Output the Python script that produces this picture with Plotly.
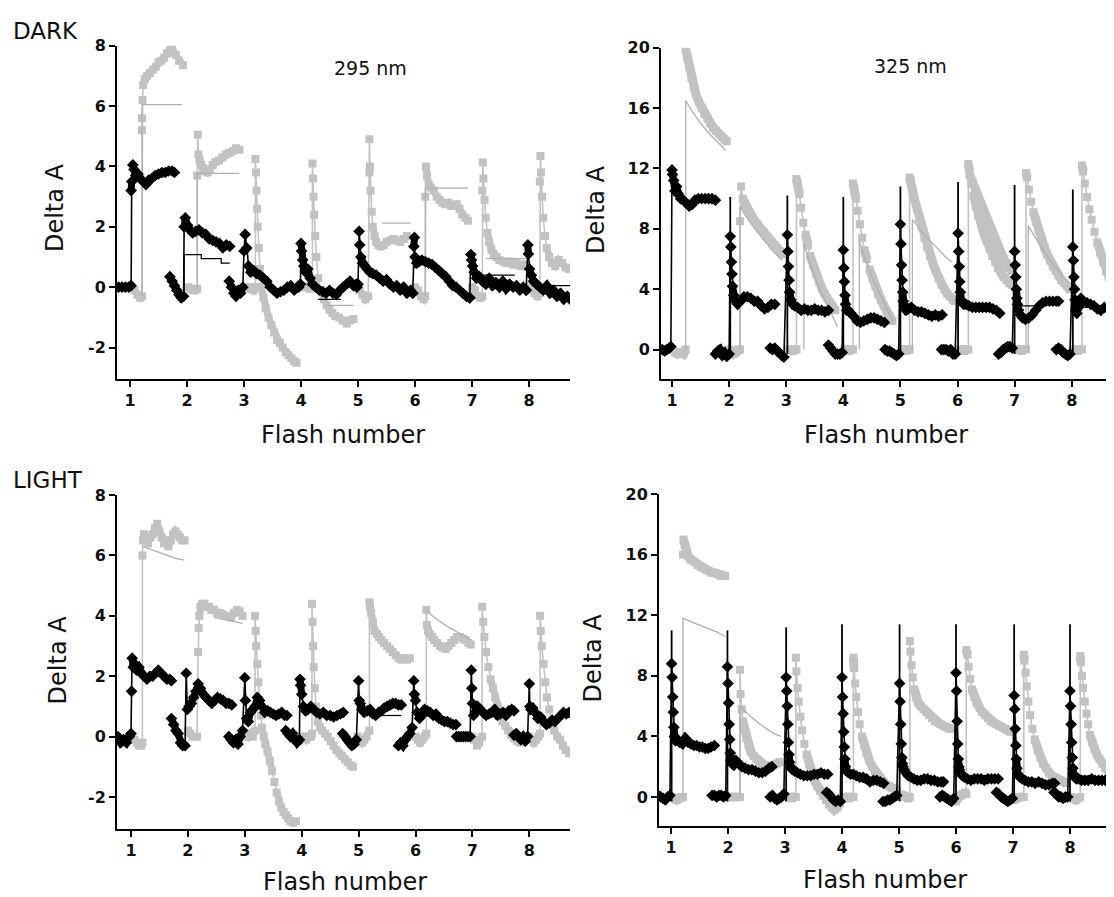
import plotly.graph_objects as go

W, H = 1114, 897
PAGE_OFF = 8  # browser body margin

# ---------------- DATA ----------------
flash_ticks = [1, 2, 3, 4, 5, 6, 7, 8]
y_ticks_295 = [-2, 0, 2, 4, 6, 8]
y_ticks_325 = [0, 4, 8, 12, 16, 20]

# ---- DARK, 295 nm (panel A) ----
dark295_black = [
    ([0.80,0.86,0.92,0.98,1.02,1.02,1.03,1.05,1.07,1.10,1.14,1.18,1.23,1.28,1.33,1.38,1.44,1.50,1.56,1.62,1.68,1.74,1.78],
     [0.0,0.0,0.0,0.0,0.05,3.2,3.5,4.05,3.9,3.7,3.75,3.6,3.5,3.4,3.55,3.6,3.7,3.75,3.8,3.8,3.85,3.85,3.8]),
    ([1.70,1.74,1.78,1.82,1.86,1.90,1.94,1.95,1.97,2.01,2.05,2.10,2.15,2.21,2.27,2.33,2.39,2.45,2.51,2.57,2.63,2.69,2.75],
     [0.35,0.2,0.05,-0.1,-0.25,-0.35,-0.3,2.0,2.3,2.05,1.9,1.8,1.85,1.9,1.8,1.75,1.6,1.55,1.5,1.45,1.3,1.4,1.35]),
    ([2.74,2.78,2.82,2.86,2.90,2.94,2.98,3.0,3.02,3.05,3.08,3.12,3.17,3.22,3.28,3.34,3.40,3.46,3.52,3.58,3.64,3.70,3.76,3.82,3.88,3.94],
     [0.2,0.0,-0.2,-0.3,-0.1,-0.2,0.0,1.2,1.75,1.3,0.7,0.5,0.55,0.45,0.4,0.3,0.2,0.0,-0.1,-0.2,-0.15,-0.1,0.0,0.05,-0.1,0.0]),
    ([3.96,3.99,4.0,4.01,4.03,4.05,4.08,4.12,4.16,4.20,4.26,4.32,4.38,4.44,4.50,4.56,4.62,4.68,4.74,4.80,4.86,4.92,4.97],
     [0.0,0.1,1.45,1.2,0.9,0.7,0.5,0.6,0.3,0.1,0.0,-0.1,-0.15,-0.2,-0.1,-0.2,-0.25,-0.1,0.0,0.1,0.2,0.05,0.1]),
    ([4.98,5.0,5.02,5.03,5.05,5.08,5.12,5.16,5.21,5.26,5.32,5.38,5.44,5.50,5.56,5.62,5.68,5.74,5.80,5.86,5.92,5.96],
     [0.0,0.1,1.85,1.4,1.0,0.8,0.7,0.6,0.5,0.45,0.4,0.3,0.2,0.25,0.1,0.0,0.05,-0.1,0.0,-0.2,-0.1,-0.2]),
    ([5.96,5.98,5.99,6.0,6.03,6.07,6.12,6.18,6.24,6.30,6.36,6.42,6.48,6.54,6.60,6.66,6.72,6.78,6.84,6.90,6.96],
     [-0.2,1.35,1.65,1.0,0.8,0.85,0.9,0.85,0.8,0.75,0.65,0.55,0.45,0.35,0.2,0.05,0.0,-0.1,-0.2,-0.3,-0.35]),
    ([6.96,6.98,6.99,7.01,7.04,7.08,7.13,7.18,7.24,7.30,7.36,7.42,7.48,7.54,7.60,7.66,7.72,7.78,7.84,7.90,7.95],
     [-0.35,1.08,0.9,0.7,0.5,0.3,0.35,0.2,0.1,0.3,0.05,0.15,0.0,0.2,-0.05,0.1,0.0,0.05,-0.1,0.0,-0.1]),
    ([7.95,7.98,7.99,8.01,8.04,8.08,8.13,8.19,8.25,8.31,8.37,8.43,8.49,8.55,8.61,8.67,8.72],
     [-0.1,1.4,1.1,0.6,0.4,0.2,0.1,0.0,-0.1,0.05,-0.2,-0.1,-0.3,-0.2,-0.4,-0.3,-0.4]),
]
dark295_gray = [
    ([1.03,1.08,1.13,1.18,1.21,1.21,1.21,1.22,1.23,1.26,1.30,1.35,1.40,1.45,1.50,1.55,1.60,1.65,1.70,1.74,1.80,1.86,1.93],
     [0.0,-0.1,-0.25,-0.35,-0.3,5.2,5.6,6.2,6.7,6.9,7.0,7.1,7.2,7.3,7.45,7.5,7.6,7.75,7.85,7.9,7.7,7.5,7.35]),
    ([2.02,2.06,2.10,2.14,2.18,2.18,2.19,2.20,2.22,2.25,2.28,2.32,2.36,2.40,2.45,2.50,2.56,2.62,2.68,2.74,2.80,2.86,2.92],
     [0.0,-0.05,-0.1,-0.1,-0.05,3.7,5.05,4.4,4.2,4.05,3.95,3.85,3.8,3.9,4.05,4.15,4.2,4.3,4.4,4.45,4.5,4.6,4.55]),
    ([3.02,3.07,3.12,3.17,3.2,3.2,3.21,3.22,3.23,3.24,3.26,3.28,3.30,3.34,3.38,3.43,3.48,3.53,3.58,3.63,3.68,3.73,3.78,3.83,3.88,3.92],
     [0.0,-0.05,0.0,-0.1,0.0,4.25,3.8,3.2,2.6,2.0,1.3,0.6,0.0,-0.35,-0.7,-1.0,-1.25,-1.5,-1.75,-1.85,-2.0,-2.15,-2.25,-2.35,-2.45,-2.5]),
    ([4.0,4.05,4.1,4.15,4.2,4.2,4.21,4.22,4.23,4.25,4.27,4.30,4.35,4.40,4.45,4.50,4.55,4.60,4.67,4.73,4.80,4.86,4.92],
     [0.0,0.05,0.0,-0.05,0.0,4.1,3.6,3.0,2.4,1.7,1.0,0.3,-0.1,-0.4,-0.6,-0.75,-0.85,-0.95,-1.0,-1.1,-1.2,-1.1,-1.05]),
    ([4.98,5.03,5.08,5.13,5.18,5.2,5.2,5.21,5.22,5.24,5.26,5.29,5.32,5.36,5.40,5.45,5.50,5.56,5.62,5.68,5.74,5.80,5.86],
     [0.0,-0.1,-0.25,-0.4,-0.3,3.8,4.9,4.0,3.2,2.5,2.0,1.7,1.5,1.4,1.35,1.4,1.5,1.55,1.6,1.55,1.5,1.6,1.7]),
    ([6.0,6.05,6.1,6.15,6.18,6.18,6.19,6.21,6.24,6.28,6.33,6.38,6.43,6.48,6.53,6.58,6.63,6.68,6.73,6.78,6.83,6.88,6.93],
     [0.0,-0.1,-0.3,-0.4,-0.3,3.0,4.0,3.7,3.4,3.3,3.2,3.0,2.9,2.8,2.75,2.8,2.7,2.7,2.75,2.6,2.4,2.3,2.2]),
    ([7.0,7.05,7.1,7.15,7.18,7.18,7.19,7.2,7.22,7.24,7.27,7.30,7.34,7.38,7.43,7.48,7.54,7.60,7.66,7.72,7.78,7.84,7.90,7.96],
     [0.0,-0.1,-0.3,-0.35,-0.3,3.2,4.13,3.6,2.9,2.3,1.8,1.5,1.25,1.1,1.0,0.9,0.85,0.8,0.85,0.75,0.8,0.7,0.75,0.7]),
    ([8.0,8.05,8.1,8.15,8.19,8.19,8.2,8.21,8.23,8.25,8.28,8.31,8.35,8.40,8.46,8.52,8.58,8.64,8.70],
     [0.0,-0.1,-0.2,-0.3,-0.2,3.5,4.35,3.8,3.0,2.3,1.7,1.3,1.0,0.8,0.7,0.9,0.8,0.65,0.6]),
]
dark295_gray_fit = [
    ([1.21,1.21,1.91], [-0.3,6.05,6.05]),
    ([2.18,2.18,2.92], [-0.05,3.77,3.77]),
    ([4.45,4.92], [-0.6,-0.6]),
    ([5.42,5.92], [2.12,2.12]),
    ([6.18,6.18,6.93], [-0.3,3.28,3.28]),
    ([7.25,7.96], [0.95,0.95]),
]
dark295_black_fit = [
    ([1.95,1.95,2.25,2.25,2.6,2.6,2.75], [-0.35,1.08,1.08,0.95,0.95,0.8,0.8]),
    ([4.3,4.7], [-0.4,-0.4]),
    ([7.15,7.75], [0.4,0.4]),
    ([8.05,8.72], [0.05,0.05]),
]

# ---- DARK, 325 nm (panel B) ----
dark325_black = [
    ([0.83,0.87,0.91,0.95,0.98,1.0,1.01,1.03,1.05,1.08,1.11,1.15,1.20,1.25,1.30,1.35,1.40,1.46,1.52,1.58,1.64,1.70,1.76],
     [0.0,-0.1,0.0,0.1,0.2,11.9,11.6,11.2,10.5,10.8,10.3,10.0,9.9,9.7,9.5,9.6,9.9,10.0,10.0,10.0,10.0,10.0,9.9]),
    ([1.76,1.80,1.84,1.88,1.92,1.96,2.0,2.02,2.03,2.04,2.05,2.06,2.08,2.11,2.15,2.20,2.26,2.32,2.38,2.44,2.50,2.56,2.62,2.68,2.74,2.80],
     [-0.3,-0.1,0.0,-0.4,-0.2,-0.45,-0.3,7.5,6.8,5.8,5.0,4.2,3.6,3.2,3.0,3.2,3.5,3.5,3.4,3.2,3.2,2.9,2.7,2.8,3.0,3.0]),
    ([2.72,2.76,2.80,2.84,2.88,2.92,2.96,3.02,3.03,3.04,3.05,3.06,3.08,3.11,3.15,3.20,3.26,3.32,3.38,3.44,3.50,3.56,3.62,3.68,3.74],
     [0.1,0.0,0.1,-0.1,-0.2,-0.4,-0.5,7.6,6.5,5.5,4.6,3.8,3.3,3.0,2.9,2.8,2.6,2.7,2.6,2.6,2.7,2.6,2.6,2.5,2.6]),
    ([3.74,3.78,3.82,3.86,3.90,3.94,3.98,4.0,4.01,4.02,4.03,4.04,4.06,4.09,4.13,4.18,4.24,4.30,4.36,4.42,4.48,4.54,4.60,4.66,4.72],
     [0.3,0.1,-0.1,-0.3,-0.3,-0.3,-0.2,6.6,5.4,4.5,3.6,3.0,2.6,2.6,2.4,2.2,1.9,1.8,1.9,2.0,2.1,2.1,2.0,1.9,1.8]),
    ([4.73,4.77,4.81,4.85,4.89,4.93,4.97,5.0,5.01,5.02,5.03,5.04,5.05,5.07,5.10,5.14,5.19,5.25,5.31,5.37,5.43,5.49,5.55,5.61,5.67,5.73],
     [0.0,-0.1,-0.1,-0.2,-0.3,-0.4,-0.3,8.3,7.0,5.6,4.6,3.8,3.2,2.9,2.6,2.7,2.8,2.6,2.5,2.5,2.4,2.3,2.2,2.3,2.2,2.3]),
    ([5.72,5.76,5.80,5.84,5.88,5.92,5.96,6.01,6.02,6.03,6.04,6.05,6.06,6.08,6.11,6.15,6.20,6.26,6.32,6.38,6.44,6.50,6.56,6.62,6.68,6.74],
     [0.0,0.0,0.0,-0.1,0.0,-0.3,-0.3,7.7,6.5,5.5,4.5,3.8,3.3,3.1,3.0,3.0,2.9,2.8,2.8,2.8,2.8,2.8,2.8,2.7,2.6,2.4]),
    ([6.72,6.76,6.80,6.84,6.88,6.92,6.96,7.0,7.01,7.02,7.03,7.04,7.05,7.07,7.10,7.14,7.19,7.25,7.31,7.37,7.43,7.49,7.55,7.61,7.67,7.73,7.77],
     [-0.3,-0.2,0.0,0.1,0.2,0.2,0.1,6.5,5.6,4.8,4.0,3.4,3.0,2.6,2.3,2.1,2.0,2.1,2.3,2.6,2.9,3.1,3.2,3.2,3.2,3.2,3.2]),
    ([7.73,7.77,7.81,7.85,7.89,7.93,7.97,8.02,8.03,8.04,8.05,8.06,8.07,8.09,8.12,8.16,8.21,8.27,8.33,8.39,8.45,8.51,8.57,8.63,8.69],
     [0.0,0.1,0.0,-0.2,-0.3,-0.4,-0.3,6.8,5.9,4.8,4.0,3.3,2.6,2.4,2.8,3.4,3.2,3.1,3.0,2.9,2.7,2.6,2.8,2.7,3.0]),
]
dark325_black_spike_x = [2.02, 3.02, 4.0, 5.0, 6.01, 7.0, 8.02]
dark325_black_spike_top = [10.1, 10.2, 10.1, 10.8, 11.1, 10.9, 10.6]
dark325_gray = [
    ([1.0,1.05,1.1,1.15,1.2,1.24], [0.0,-0.2,-0.3,-0.2,-0.3,0.0]),
    ([1.24,1.27,1.30,1.34,1.38,1.42,1.47,1.52,1.57,1.62,1.67,1.72,1.77,1.82,1.87,1.92,1.96],
     [19.9,19.3,18.7,18.0,17.4,16.9,16.4,16.0,15.6,15.3,15.0,14.7,14.5,14.3,14.1,13.9,13.8]),
    ([2.0,2.04,2.08,2.12,2.16,2.19,2.19,2.21,2.24,2.28,2.32,2.36,2.40,2.45,2.50,2.55,2.60,2.65,2.70,2.75,2.80,2.85,2.90,2.94],
     [0.0,-0.1,-0.3,-0.2,0.0,0.0,8.5,10.8,10.0,9.6,9.3,9.0,8.8,8.5,8.3,8.0,7.8,7.5,7.3,7.1,6.9,6.7,6.5,6.3]),
    ([3.04,3.08,3.12,3.16,3.18,3.18,3.20,3.23,3.26,3.30,3.34,3.38,3.42,3.47,3.52,3.57,3.62,3.67,3.72,3.77,3.82,3.86],
     [0.0,0.0,-0.1,0.0,0.0,11.3,11.0,10.3,9.4,8.4,7.6,6.9,6.2,5.6,5.0,4.5,4.1,3.7,3.4,3.1,2.8,2.6]),
    ([4.02,4.06,4.10,4.14,4.17,4.17,4.19,4.22,4.25,4.29,4.33,4.37,4.41,4.46,4.51,4.56,4.61,4.66,4.71,4.76,4.81,4.86],
     [0.0,0.0,-0.1,0.0,0.0,11.0,10.7,10.0,9.2,8.3,7.4,6.6,6.0,5.3,4.7,4.2,3.7,3.3,2.9,2.5,2.2,1.9]),
    ([5.02,5.06,5.10,5.14,5.16,5.16,5.18,5.21,5.25,5.29,5.33,5.37,5.42,5.47,5.52,5.57,5.62,5.67,5.72,5.77,5.82,5.87,5.92,5.96],
     [0.0,0.0,-0.1,0.0,0.0,11.4,11.2,10.6,9.9,9.3,8.7,8.1,7.4,6.8,6.2,5.7,5.2,4.7,4.3,4.0,3.7,3.5,3.3,3.2]),
    ([6.04,6.08,6.12,6.16,6.19,6.19,6.21,6.24,6.28,6.32,6.36,6.41,6.46,6.51,6.56,6.61,6.66,6.71,6.76,6.81,6.86,6.91,6.95],
     [0.0,0.0,-0.1,0.0,0.0,12.3,11.8,11.0,10.2,9.5,8.9,8.3,7.7,7.2,6.7,6.2,5.8,5.4,5.1,4.8,4.6,4.4,4.3]),
    ([6.21,6.26,6.31,6.36,6.41,6.46,6.51,6.56,6.61,6.66,6.71,6.76,6.81,6.86,6.91,6.95],
     [11.6,11.1,10.6,10.1,9.6,9.1,8.6,8.1,7.6,7.2,6.8,6.4,6.0,5.7,5.4,5.2]),
    ([7.04,7.08,7.12,7.16,7.2,7.2,7.22,7.25,7.29,7.33,7.37,7.42,7.47,7.52,7.57,7.62,7.67,7.72,7.77,7.82,7.87,7.92,7.96],
     [0.0,0.0,-0.1,0.0,0.0,11.7,11.4,10.6,9.8,9.1,8.5,7.9,7.3,6.8,6.3,5.9,5.5,5.2,4.9,4.6,4.4,4.2,4.0]),
    ([8.02,8.06,8.10,8.14,8.18,8.18,8.20,8.23,8.27,8.31,8.35,8.40,8.45,8.50,8.55,8.60,8.65,8.70],
     [0.0,0.0,-0.1,0.0,0.0,12.2,11.8,11.0,10.1,9.3,8.6,7.8,7.1,6.4,5.8,5.2,4.8,4.4]),
]
dark325_gray_fit = [
    ([1.24,1.24,1.35,1.5,1.65,1.8,1.94], [0.0,16.5,15.8,15.0,14.3,13.7,13.2]),
    ([2.19,2.19,2.3,2.45,2.6,2.75,2.93], [0.0,9.5,8.8,8.0,7.3,6.6,5.9]),
    ([3.31,3.31,3.4,3.5,3.6,3.7,3.8,3.9], [0.0,7.0,5.9,4.8,3.9,3.1,2.3,1.5]),
    ([4.28,4.28,4.4,4.5,4.6,4.7,4.8,4.88], [0.0,7.2,5.8,4.8,4.0,3.2,2.4,1.8]),
    ([5.21,5.21,5.3,5.4,5.5,5.6,5.7,5.8,5.9], [0.0,8.6,8.2,7.7,7.3,6.9,6.5,6.1,5.8]),
    ([7.24,7.24,7.35,7.45,7.55,7.65,7.75,7.85,7.96], [0.0,8.2,7.5,6.9,6.3,5.8,5.3,4.8,4.4]),
]
dark325_black_fit = [
    ([7.03,7.45], [2.9,2.9]),
    ([8.1,8.5], [2.8,2.8]),
]

# ---- LIGHT, 295 nm (panel C) ----
light295_black = [
    ([0.77,0.82,0.87,0.92,0.97,1.0,1.01,1.02,1.04,1.07,1.10,1.14,1.18,1.23,1.28,1.33,1.38,1.43,1.48,1.53,1.58,1.63,1.68,1.71],
     [0.0,-0.2,-0.1,-0.2,0.0,0.1,1.5,2.6,2.3,2.4,2.2,2.3,2.1,2.0,1.9,2.0,2.0,2.1,2.2,2.1,2.0,1.9,1.9,1.85]),
    ([1.71,1.75,1.79,1.83,1.87,1.91,1.95,1.97,1.99,2.02,2.06,2.10,2.14,2.18,2.22,2.27,2.32,2.37,2.42,2.47,2.52,2.57,2.62,2.67,2.72,2.77],
     [0.6,0.4,0.2,0.1,-0.2,-0.3,-0.3,2.1,0.9,1.0,1.1,1.3,1.5,1.75,1.6,1.4,1.3,1.2,1.1,1.2,1.3,1.25,1.2,1.1,1.1,1.05]),
    ([2.72,2.76,2.80,2.84,2.88,2.92,2.96,3.0,3.01,3.03,3.06,3.10,3.14,3.18,3.22,3.26,3.30,3.35,3.40,3.45,3.50,3.55,3.60,3.65,3.70,3.74],
     [0.0,-0.1,-0.2,-0.1,-0.25,0.0,0.2,1.95,1.2,0.6,0.5,0.8,0.9,1.0,1.3,1.2,1.0,0.8,0.85,0.8,0.75,0.7,0.75,0.8,0.7,0.7]),
    ([3.72,3.76,3.80,3.84,3.88,3.92,3.96,3.97,3.98,4.0,4.03,4.07,4.11,4.16,4.21,4.26,4.32,4.38,4.44,4.50,4.56,4.62,4.68,4.73],
     [0.2,0.1,0.0,0.1,-0.1,-0.2,-0.1,1.9,1.7,1.4,1.0,0.85,0.9,1.0,0.9,0.8,0.75,0.8,0.7,0.7,0.65,0.7,0.75,0.8]),
    ([4.72,4.76,4.80,4.84,4.88,4.92,4.96,5.0,5.01,5.03,5.06,5.10,5.15,5.20,5.25,5.30,5.35,5.40,5.45,5.50,5.55,5.60,5.65,5.70,5.75],
     [0.1,0.0,-0.1,-0.2,-0.3,-0.25,-0.1,1.85,1.2,1.1,0.9,0.8,0.85,0.9,0.75,0.7,0.8,0.85,0.95,1.0,1.05,1.1,1.1,1.05,1.05]),
    ([5.70,5.74,5.78,5.82,5.86,5.90,5.94,5.97,5.98,6.0,6.03,6.07,6.11,6.16,6.21,6.26,6.31,6.36,6.41,6.46,6.51,6.56,6.61,6.66,6.71],
     [-0.3,-0.2,-0.3,-0.1,0.0,0.1,0.3,1.85,1.4,1.2,0.8,0.6,0.7,0.9,0.85,0.8,0.7,0.75,0.6,0.55,0.5,0.5,0.45,0.4,0.4]),
    ([6.72,6.76,6.80,6.84,6.88,6.92,6.96,6.98,6.99,7.0,7.02,7.05,7.09,7.14,7.19,7.24,7.29,7.34,7.39,7.44,7.49,7.54,7.59,7.64,7.69,7.73],
     [0.0,0.0,0.0,0.0,0.0,0.0,0.0,2.2,1.6,1.1,0.7,0.8,1.0,0.9,0.8,0.7,0.75,0.8,0.9,0.7,0.75,0.8,0.7,0.85,0.9,0.85]),
    ([7.73,7.77,7.81,7.85,7.89,7.93,7.97,8.0,8.01,8.03,8.06,8.10,8.15,8.20,8.25,8.30,8.35,8.40,8.45,8.50,8.55,8.60,8.65,8.70],
     [0.05,0.1,0.0,-0.1,0.0,-0.15,0.0,1.75,1.0,0.9,0.95,0.8,0.6,0.65,0.5,0.4,0.45,0.55,0.5,0.6,0.7,0.8,0.75,0.8]),
]
light295_gray = [
    ([1.02,1.06,1.10,1.14,1.18,1.2,1.2,1.21,1.23,1.26,1.30,1.34,1.38,1.42,1.46,1.50,1.54,1.58,1.62,1.66,1.70,1.74,1.78,1.82,1.86,1.90,1.94],
     [0.0,-0.1,-0.2,-0.3,-0.3,-0.2,6.0,6.5,6.7,6.5,6.4,6.6,6.7,6.9,7.05,6.8,6.6,6.4,6.5,6.3,6.5,6.7,6.8,6.7,6.6,6.5,6.5]),
    ([2.0,2.04,2.08,2.12,2.16,2.18,2.19,2.20,2.22,2.25,2.29,2.33,2.37,2.41,2.46,2.51,2.56,2.61,2.66,2.71,2.76,2.81,2.86,2.91,2.96],
     [0.2,0.1,0.0,0.0,0.0,2.8,3.6,4.0,4.3,4.4,4.4,4.3,4.3,4.2,4.2,4.1,4.1,4.05,4.0,4.0,3.95,4.1,4.2,4.15,4.0]),
    ([2.98,3.02,3.06,3.10,3.14,3.18,3.18,3.19,3.20,3.22,3.24,3.26,3.28,3.30,3.33,3.36,3.40,3.44,3.48,3.52,3.56,3.60,3.64,3.68,3.72,3.76,3.80,3.85,3.90],
     [0.0,0.1,0.0,0.1,0.0,0.2,4.0,3.5,3.0,2.4,1.8,1.2,0.7,0.3,0.0,-0.25,-0.5,-0.8,-1.15,-1.5,-1.85,-2.15,-2.35,-2.5,-2.6,-2.7,-2.8,-2.85,-2.8]),
    ([4.0,4.04,4.08,4.12,4.16,4.18,4.18,4.19,4.20,4.21,4.23,4.25,4.28,4.32,4.36,4.41,4.46,4.51,4.56,4.61,4.66,4.71,4.76,4.81,4.86,4.90],
     [0.0,0.0,-0.1,0.0,0.0,0.1,4.4,3.8,3.0,2.3,1.6,1.0,0.5,0.3,0.2,0.1,0.0,-0.15,-0.3,-0.45,-0.55,-0.65,-0.75,-0.85,-0.95,-1.0]),
    ([4.98,5.02,5.06,5.10,5.14,5.19,5.19,5.20,5.22,5.25,5.28,5.32,5.36,5.40,5.45,5.50,5.55,5.60,5.65,5.70,5.75,5.80,5.85,5.90],
     [0.0,-0.1,-0.2,-0.1,0.0,0.2,4.45,4.3,4.1,3.8,3.5,3.4,3.3,3.2,3.1,3.0,2.9,2.8,2.7,2.6,2.55,2.6,2.55,2.6]),
    ([6.0,6.04,6.08,6.12,6.16,6.19,6.19,6.20,6.22,6.25,6.29,6.33,6.38,6.43,6.48,6.53,6.58,6.63,6.68,6.73,6.78,6.83,6.88,6.93,6.97],
     [0.0,-0.1,-0.2,-0.1,0.0,0.1,4.2,3.7,3.5,3.4,3.3,3.2,3.1,3.0,2.95,2.9,3.0,3.1,3.2,3.3,3.3,3.25,3.2,3.1,3.05]),
    ([7.0,7.04,7.08,7.12,7.17,7.17,7.19,7.21,7.24,7.28,7.32,7.36,7.40,7.44,7.48,7.53,7.58,7.63,7.68,7.73,7.78,7.84],
     [0.0,-0.1,-0.3,-0.2,0.0,4.3,3.8,3.3,2.8,2.3,1.9,1.6,1.3,1.0,0.7,0.5,0.35,0.2,0.05,-0.05,-0.15,-0.2]),
    ([8.0,8.04,8.08,8.12,8.16,8.19,8.19,8.20,8.22,8.25,8.28,8.31,8.35,8.39,8.44,8.49,8.54,8.59,8.64,8.70],
     [0.0,-0.1,-0.2,-0.1,0.0,0.1,4.0,3.5,3.0,2.4,1.8,1.3,0.9,0.5,0.2,0.0,-0.1,-0.3,-0.45,-0.55]),
]
light295_gray_fit = [
    ([1.2,1.35,1.5,1.65,1.8,1.94], [6.3,6.2,6.1,6.0,5.9,5.85]),
    ([2.46,2.96], [3.95,3.75]),
    ([6.2,6.4,6.6,6.8,6.97], [4.15,3.85,3.6,3.4,3.2]),
]
light295_black_fit = [
    ([5.3,5.75], [0.7,0.7]),
]

# ---- LIGHT, 325 nm (panel D) ----
light325_black = [
    ([0.78,0.82,0.86,0.90,0.94,0.98,1.01,1.02,1.03,1.04,1.05,1.06,1.08,1.11,1.15,1.20,1.25,1.30,1.35,1.40,1.45,1.50,1.55,1.60,1.65,1.70,1.76],
     [0.1,0.0,-0.1,-0.2,0.0,0.1,8.8,7.9,6.6,5.6,4.6,4.0,3.7,3.8,3.6,3.5,3.9,3.6,3.5,3.4,3.4,3.3,3.3,3.2,3.2,3.3,3.4]),
    ([1.72,1.76,1.80,1.84,1.88,1.92,1.96,1.99,2.0,2.01,2.02,2.03,2.04,2.05,2.07,2.10,2.14,2.19,2.24,2.30,2.36,2.42,2.48,2.54,2.60,2.66,2.72,2.77],
     [0.1,0.1,0.0,0.1,0.1,0.0,0.1,8.6,7.5,6.2,4.8,3.8,2.9,2.4,2.2,2.1,2.4,2.2,2.0,1.9,1.8,1.8,1.7,1.6,1.6,1.7,1.9,2.0]),
    ([2.74,2.78,2.82,2.86,2.90,2.94,2.98,3.02,3.03,3.04,3.05,3.06,3.07,3.08,3.10,3.13,3.17,3.22,3.27,3.33,3.39,3.45,3.51,3.57,3.63,3.69,3.75],
     [0.0,0.1,-0.1,-0.2,-0.1,0.0,0.2,7.9,7.0,6.0,4.8,3.6,2.8,2.3,2.0,1.8,1.7,1.6,1.5,1.4,1.4,1.4,1.5,1.5,1.6,1.5,1.5]),
    ([3.73,3.77,3.81,3.85,3.89,3.93,3.97,4.0,4.01,4.02,4.03,4.04,4.05,4.06,4.08,4.11,4.15,4.20,4.25,4.31,4.37,4.43,4.49,4.55,4.61,4.67,4.73],
     [0.3,0.2,0.0,-0.2,-0.3,-0.2,-0.3,7.9,6.6,5.5,4.3,3.3,2.5,2.0,1.7,1.6,1.5,1.5,1.4,1.3,1.3,1.2,1.0,1.1,1.1,1.0,0.9]),
    ([4.72,4.76,4.80,4.84,4.88,4.92,4.96,5.01,5.02,5.03,5.04,5.05,5.06,5.07,5.09,5.12,5.16,5.21,5.26,5.32,5.38,5.44,5.50,5.56,5.62,5.68,5.74,5.78],
     [-0.3,-0.3,-0.2,-0.2,-0.1,0.0,0.1,7.5,6.3,4.8,3.5,2.6,2.2,2.0,1.8,1.6,1.4,1.3,1.2,1.1,1.1,1.2,1.2,1.1,1.1,1.0,1.0,1.0]),
    ([5.72,5.76,5.80,5.84,5.88,5.92,5.96,6.0,6.01,6.02,6.03,6.04,6.05,6.06,6.08,6.11,6.15,6.20,6.26,6.32,6.38,6.44,6.50,6.56,6.62,6.68,6.74],
     [0.0,0.1,0.0,-0.1,-0.2,-0.3,-0.1,8.2,7.0,5.0,3.5,2.5,2.0,1.8,1.6,1.4,1.3,1.2,1.1,1.2,1.2,1.2,1.1,1.2,1.2,1.2,1.2]),
    ([6.71,6.75,6.79,6.83,6.87,6.91,6.95,6.99,7.02,7.03,7.04,7.05,7.06,7.07,7.09,7.12,7.16,7.21,7.27,7.33,7.39,7.45,7.51,7.57,7.63,7.69,7.73],
     [0.3,0.2,0.0,-0.1,-0.2,-0.3,-0.2,-0.1,6.7,5.8,4.5,3.4,2.5,1.9,1.5,1.3,1.2,1.1,1.0,1.0,0.9,1.0,0.9,0.8,0.8,0.9,0.9]),
    ([7.72,7.76,7.80,7.84,7.88,7.92,7.96,8.0,8.01,8.02,8.03,8.04,8.05,8.06,8.08,8.11,8.15,8.20,8.26,8.32,8.38,8.44,8.50,8.56,8.62,8.68,8.73],
     [0.3,0.2,0.0,0.0,-0.1,0.0,0.0,7.0,6.0,4.8,3.6,2.6,1.9,1.5,1.3,1.2,1.2,1.1,1.1,1.1,1.2,1.1,1.1,1.1,1.1,1.0,1.0]),
]
light325_black_spike_x = [1.01, 1.99, 3.02, 4.0, 5.01, 6.0, 7.02, 8.0]
light325_black_spike_top = [11.0, 11.0, 11.2, 11.4, 11.4, 11.4, 11.4, 11.4]
light325_gray = [
    ([1.02,1.06,1.10,1.14,1.18,1.21], [0.0,-0.1,-0.2,-0.1,0.0,0.0]),
    ([1.21,1.22,1.24,1.27,1.30,1.34,1.38,1.42,1.47,1.52,1.57,1.62,1.67,1.72,1.77,1.82,1.87,1.92,1.95],
     [16.0,17.0,16.6,16.2,15.9,15.7,15.6,15.5,15.3,15.2,15.1,15.0,14.9,14.8,14.8,14.7,14.6,14.6,14.6]),
    ([2.02,2.06,2.10,2.14,2.18,2.21,2.21,2.22,2.24,2.26,2.29,2.32,2.36,2.40,2.45,2.50,2.55,2.60,2.65,2.70,2.75,2.80,2.85,2.90],
     [0.0,0.0,0.0,0.0,0.0,0.0,8.4,6.8,5.8,5.0,4.4,3.9,3.4,3.0,2.7,2.5,2.3,2.2,2.1,2.0,2.0,2.1,2.2,2.3]),
    ([3.04,3.08,3.12,3.16,3.19,3.19,3.20,3.22,3.24,3.27,3.30,3.34,3.38,3.42,3.47,3.52,3.57,3.62,3.67,3.72,3.77,3.82,3.87,3.92,3.97],
     [0.0,0.0,-0.1,0.0,0.0,9.2,8.3,7.2,6.3,5.3,4.4,3.5,2.8,2.2,1.6,1.1,0.7,0.4,0.1,-0.2,-0.5,-0.7,-0.85,-0.7,-0.4]),
    ([4.04,4.08,4.12,4.16,4.2,4.2,4.21,4.23,4.25,4.28,4.31,4.35,4.39,4.43,4.48,4.53,4.58,4.63,4.68,4.73,4.78,4.83,4.88,4.93,4.97],
     [0.0,0.0,-0.1,0.0,0.0,9.2,8.5,7.5,6.6,5.6,4.8,4.0,3.4,2.9,2.4,2.0,1.7,1.4,1.2,1.0,0.8,0.7,0.6,0.5,0.4]),
    ([5.04,5.08,5.12,5.16,5.19,5.19,5.20,5.22,5.24,5.27,5.30,5.34,5.38,5.43,5.48,5.53,5.58,5.63,5.68,5.73,5.78,5.83,5.88,5.92],
     [0.0,0.1,0.0,-0.1,0.0,10.3,9.6,8.7,7.9,7.1,6.6,6.2,6.0,5.8,5.6,5.4,5.2,5.0,4.9,4.8,4.7,4.6,4.5,4.5]),
    ([6.0,6.04,6.08,6.12,6.16,6.18,6.18,6.20,6.22,6.25,6.28,6.32,6.36,6.41,6.46,6.51,6.56,6.61,6.66,6.71,6.76,6.81,6.86,6.91,6.96],
     [-0.3,0.0,0.1,0.2,0.3,0.2,9.7,9.4,8.6,7.8,7.1,6.6,6.2,5.9,5.6,5.4,5.2,5.0,4.9,4.8,4.7,4.6,4.5,4.4,4.3]),
    ([7.02,7.06,7.10,7.14,7.19,7.19,7.20,7.22,7.24,7.27,7.30,7.34,7.38,7.43,7.48,7.53,7.58,7.63,7.68,7.73,7.78,7.83,7.88,7.93],
     [-0.2,-0.1,0.0,0.0,0.0,9.4,9.0,8.2,7.3,6.3,5.4,4.5,3.8,3.1,2.6,2.2,1.9,1.6,1.4,1.3,1.2,1.1,1.0,0.9]),
    ([8.02,8.06,8.10,8.14,8.18,8.18,8.19,8.21,8.23,8.26,8.29,8.32,8.35,8.39,8.43,8.47,8.52,8.57,8.62,8.67,8.72],
     [0.0,-0.1,-0.2,-0.1,0.0,9.3,8.9,8.0,7.2,6.3,5.5,4.8,4.1,3.6,3.2,2.8,2.5,2.2,1.9,1.7,1.5]),
]
light325_gray_fit = [
    ([1.21,1.21,1.4,1.6,1.8,1.95], [0.0,11.8,11.5,11.2,10.9,10.6]),
    ([2.21,2.21,2.4,2.6,2.8,2.93], [0.0,6.0,5.3,4.7,4.2,4.0]),
]
light325_black_fit = []

# ---------------- STYLE / LAYOUT ----------------
BLACK = "#000000"
GRAY = "#c2c2c2"
FIT_GRAY = "#b0b0b0"
FONT = "DejaVu Sans"
FW, FH = W - PAGE_OFF, H - PAGE_OFF


def flat(segs):
    xs, ys = [], []
    for sx, sy in segs:
        xs += list(sx) + [None]
        ys += list(sy) + [None]
    return xs, ys


def band(segs, thr):
    # same points, broken wherever consecutive values jump more than thr
    xs, ys = [], []
    for sx, sy in segs:
        for i in range(len(sx)):
            if i > 0 and abs(sy[i] - sy[i - 1]) > thr:
                xs.append(None)
                ys.append(None)
            xs.append(sx[i])
            ys.append(sy[i])
        xs.append(None)
        ys.append(None)
    return xs, ys


def spikes(sx, stop, base=-0.3):
    xs, ys = [], []
    for x, t in zip(sx, stop):
        xs += [x, x, None]
        ys += [base, t, None]
    return xs, ys


def pxx(px):
    return (px - PAGE_OFF) / FW


def pxy(py):
    return 1 - (py - PAGE_OFF) / FH


panels = [
    dict(ax="", xdom=(117, 570), ydom=(374, 37), xr=(0.772, 8.719), yr=(-3.05, 8), yt=y_ticks_295, thr=0.35,
         gw=7, black=dark295_black, gray=dark295_gray, bfit=dark295_black_fit, gfit=dark295_gray_fit, spk=None),
    dict(ax="2", xdom=(661, 1112), ydom=(374, 39), xr=(0.807, 8.706), yr=(-1.97, 20), yt=y_ticks_325, thr=0.7,
         gw=9, black=dark325_black, gray=dark325_gray, bfit=dark325_black_fit, gfit=dark325_gray_fit,
         spk=(dark325_black_spike_x, dark325_black_spike_top)),
    dict(ax="3", xdom=(117, 570), ydom=(828, 491), xr=(0.754, 8.715), yr=(-3.05, 8), yt=y_ticks_295, thr=0.35,
         gw=7, black=light295_black, gray=light295_gray, bfit=light295_black_fit, gfit=light295_gray_fit, spk=None),
    dict(ax="4", xdom=(659, 1112), ydom=(825, 490), xr=(0.789, 8.737), yr=(-1.9, 20), yt=y_ticks_325, thr=0.7,
         gw=9, black=light325_black, gray=light325_gray, bfit=light325_black_fit, gfit=light325_gray_fit,
         spk=(light325_black_spike_x, light325_black_spike_top)),
]

fig = go.Figure()
layout_axes = {}
for p in panels:
    xa, ya = "x" + p["ax"], "y" + p["ax"]
    gx, gy = band(p["gray"], p["thr"])
    fig.add_trace(go.Scatter(x=gx, y=gy, xaxis=xa, yaxis=ya, mode="lines",
                             line=dict(color=GRAY, width=p["gw"]), hoverinfo="skip", showlegend=False))
    gx, gy = flat(p["gray"])
    fig.add_trace(go.Scatter(x=gx, y=gy, xaxis=xa, yaxis=ya, mode="lines+markers",
                             line=dict(color=GRAY, width=1.6),
                             marker=dict(symbol="square", size=8, color=GRAY),
                             hoverinfo="skip", showlegend=False))
    if p["gfit"]:
        fx, fy = flat(p["gfit"])
        fig.add_trace(go.Scatter(x=fx, y=fy, xaxis=xa, yaxis=ya, mode="lines",
                                 line=dict(color=FIT_GRAY, width=1.3),
                                 hoverinfo="skip", showlegend=False))
    bx, by = band(p["black"], p["thr"])
    fig.add_trace(go.Scatter(x=bx, y=by, xaxis=xa, yaxis=ya, mode="lines",
                             line=dict(color=BLACK, width=7), hoverinfo="skip", showlegend=False))
    bx, by = flat(p["black"])
    fig.add_trace(go.Scatter(x=bx, y=by, xaxis=xa, yaxis=ya, mode="lines+markers",
                             line=dict(color=BLACK, width=1.6),
                             marker=dict(symbol="diamond", size=9, color=BLACK),
                             hoverinfo="skip", showlegend=False))
    if p["spk"]:
        sx, sy = spikes(*p["spk"])
        fig.add_trace(go.Scatter(x=sx, y=sy, xaxis=xa, yaxis=ya, mode="lines",
                                 line=dict(color=BLACK, width=1.8),
                                 hoverinfo="skip", showlegend=False))
    if p["bfit"]:
        fx, fy = flat(p["bfit"])
        fig.add_trace(go.Scatter(x=fx, y=fy, xaxis=xa, yaxis=ya, mode="lines",
                                 line=dict(color=BLACK, width=1.2),
                                 hoverinfo="skip", showlegend=False))

    common = dict(showgrid=False, zeroline=False, showline=True, linecolor=BLACK, linewidth=2,
                  ticks="outside", ticklen=6, tickwidth=1.5, tickcolor=BLACK,
                  tickfont=dict(family=FONT, size=16, color="#111111", weight="bold"), fixedrange=True)
    layout_axes["xaxis" + p["ax"]] = dict(
        domain=[pxx(p["xdom"][0]), pxx(p["xdom"][1])], range=list(p["xr"]), anchor=ya,
        tickmode="array", tickvals=flash_ticks, ticktext=[str(v) for v in flash_ticks], **common)
    layout_axes["yaxis" + p["ax"]] = dict(
        domain=[pxy(p["ydom"][0]), pxy(p["ydom"][1])], range=list(p["yr"]), anchor=xa,
        tickmode="array", tickvals=p["yt"], ticktext=[str(v) for v in p["yt"]], **common)

ann = []


def text(t, px, py, size, anchor="center", angle=0):
    ann.append(dict(text=t, x=pxx(px), y=pxy(py), xref="paper", yref="paper", showarrow=False,
                    xanchor=anchor, yanchor="middle", textangle=angle,
                    font=dict(family=FONT, size=size, color="#111111")))


text("DARK", 11, 22, 23, anchor="left")
text("LIGHT", 11, 476, 23, anchor="left")
text("295 nm", 370, 60, 19)
text("325 nm", 910, 57, 19)
for (cx, cy) in [(55, 201), (596, 202), (58, 658), (593, 656)]:
    text("Delta A", cx, cy, 24, angle=-90)
for (cx, cy) in [(343, 430), (886, 430), (345, 882), (885, 880)]:
    text("Flash number", cx, cy, 24)

fig.update_layout(width=FW, height=FH, margin=dict(l=0, r=0, t=0, b=0), autosize=False,
                  paper_bgcolor="white", plot_bgcolor="white", annotations=ann, **layout_axes)

fig.write_html("out.html")
